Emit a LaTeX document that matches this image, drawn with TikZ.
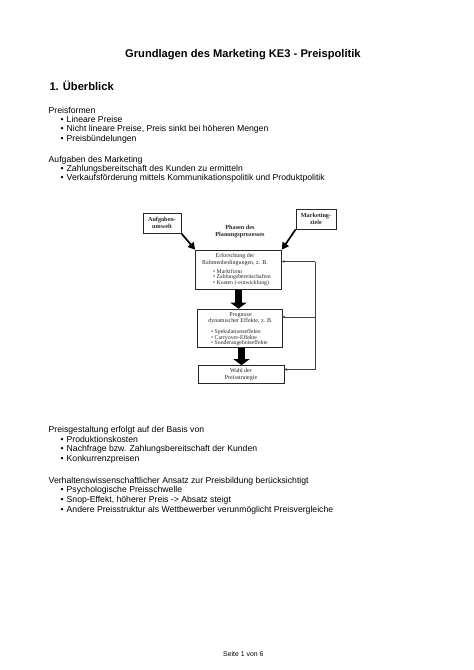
\documentclass[tikz,border=0pt]{standalone}
\usepackage{fontspec}
\setmainfont{Liberation Sans}
\newfontfamily\serifd{Liberation Serif}
\usetikzlibrary{arrows.meta}
\tikzset{
  body/.style={anchor=base west, inner sep=0pt, font=\fontsize{8.66}{10}\selectfont},
  ttl/.style={inner sep=0pt, font=\fontsize{11.15}{13}\selectfont\bfseries},
  dbox/.style={draw=black!85, line width=0.7pt, inner sep=0pt, minimum width=#1},
  dtxt/.style={inner sep=0pt, align=center, font=\serifd\fontsize{6}{6.6}\selectfont, text=black!85},
  dbold/.style={inner sep=0pt, align=center, font=\serifd\bfseries\fontsize{6.2}{7.4}\selectfont, text=black!85},
  dlist/.style={inner sep=0pt, align=left, anchor=north west, font=\serifd\fontsize{5.8}{5.8}\selectfont, text=black!85},
  thick arr/.style={line width=1.7pt, draw=black, -{Triangle[length=7pt,width=7.5pt]}},
  block arr/.style={line width=6.7pt, draw=black, -{Triangle[length=6pt,width=16pt]}},
  fb/.style={draw=black!75, line width=0.5pt},
  fbarr/.style={fb, -{Stealth[length=2.8pt,width=2.6pt]}}
}
\newcommand\bitem[3]{\node[body] (#1b) at (60.5,#2) {•}; \node[body] (#1) at (66.5,#2) {#3};}
\begin{document}
\begin{tikzpicture}[x=1pt,y=-1pt]
\useasboundingbox[fill=white] (0,0) rectangle (474,670);

% title and heading
\node[ttl, anchor=base] (title) at (242.9,57.3) {Grundlagen des Marketing KE3 - Preispolitik};
\node[ttl, anchor=base west] (head) at (49.3,90.7) {1. Überblick};

% upper text
\node[body] (pf) at (48.5,113.1) {Preisformen};
\bitem{pf1}{122.4}{Lineare Preise}
\bitem{pf2}{131.6}{Nicht lineare Preise, Preis sinkt bei höheren Mengen}
\bitem{pf3}{141.2}{Preisbündelungen}
\node[body] (am) at (48.5,162.4) {Aufgaben des Marketing};
\bitem{am1}{171.5}{Zahlungsbereitschaft des Kunden zu ermitteln}
\bitem{am2}{180.6}{Verkaufsförderung mittels Kommunikationspolitik und Produktpolitik}

% diagram
\node[dbox=38pt, minimum height=20pt, dbold] (aufg) at (162,223) {Aufgaben-\\umwelt};
\node[dbox=40pt, minimum height=20pt, dbold] (ziele) at (316,219) {Marketing-\\ziele};
\node[dbold] (phasen) at (240,231.5) {Phasen des\\Planungsprozesses};

\node[dbox=86pt, minimum height=39.5pt] (b1) at (238.5,269.8) {};
\node[dtxt] (b1t) at (235,259.3) {Erforschung der\\Rahmenbedingungen, z. B.};
\node[dlist] (b1l) at (213,268.8) {• Marktform\\• Zahlungsbereitschaften\\• Kosten (-entwicklung)};

\node[dbox=85pt, minimum height=38.5pt] (b2) at (239.5,328.3) {};
\node[dtxt] (b2t) at (240.5,318) {Prognose\\dynamischer Effekte, z. B.};
\node[dlist] (b2l) at (211,329) {• Spekulationseffekte\\• Carryover-Effekte\\• Sonderangebotseffekte};

\node[dbox=86pt, minimum height=18pt, dtxt] (b3) at (241,374.5) {Wahl der\\Preisstrategie};

\draw[thick arr] (aufg.south east) -- (b1.north west);
\draw[thick arr] (ziele.south west) -- (b1.north east);
\draw[block arr] (b1.south) -- (b1.south |- b2.north);
\draw[block arr] ([xshift=2pt]b2.south) -- ([xshift=2pt]b2.south |- b3.north);

\coordinate (f1) at (315,261.5);
\coordinate (f2) at (315,317);
\coordinate (f3) at (315,369.5);
\draw[fb] (f1) -- (f3);
\draw[fbarr] (f1) -- (b1.east |- f1);
\draw[fbarr] (f2) -- (b2.east |- f2);
\draw[fbarr] (f3) -- (b3.east |- f3);

% lower text
\node[body] (pg) at (48.5,432.1) {Preisgestaltung erfolgt auf der Basis von};
\bitem{pg1}{442.1}{Produktionskosten}
\bitem{pg2}{451.3}{Nachfrage bzw. Zahlungsbereitschaft der Kunden}
\bitem{pg3}{461.1}{Konkurrenzpreisen}
\node[body] (va) at (48.5,483.1) {Verhaltenswissenschaftlicher Ansatz zur Preisbildung berücksichtigt};
\bitem{va1}{492.2}{Psychologische Preisschwelle}
\bitem{va2}{502.1}{Snop-Effekt, höherer Preis -> Absatz steigt}
\bitem{va3}{512.1}{Andere Preisstruktur als Wettbewerber verunmöglicht Preisvergleiche}

% footer
\node[inner sep=0pt, anchor=base, font=\fontsize{6.9}{8}\selectfont] (foot) at (243.3,656.5) {Seite 1 von 6};
\end{tikzpicture}
\end{document}
